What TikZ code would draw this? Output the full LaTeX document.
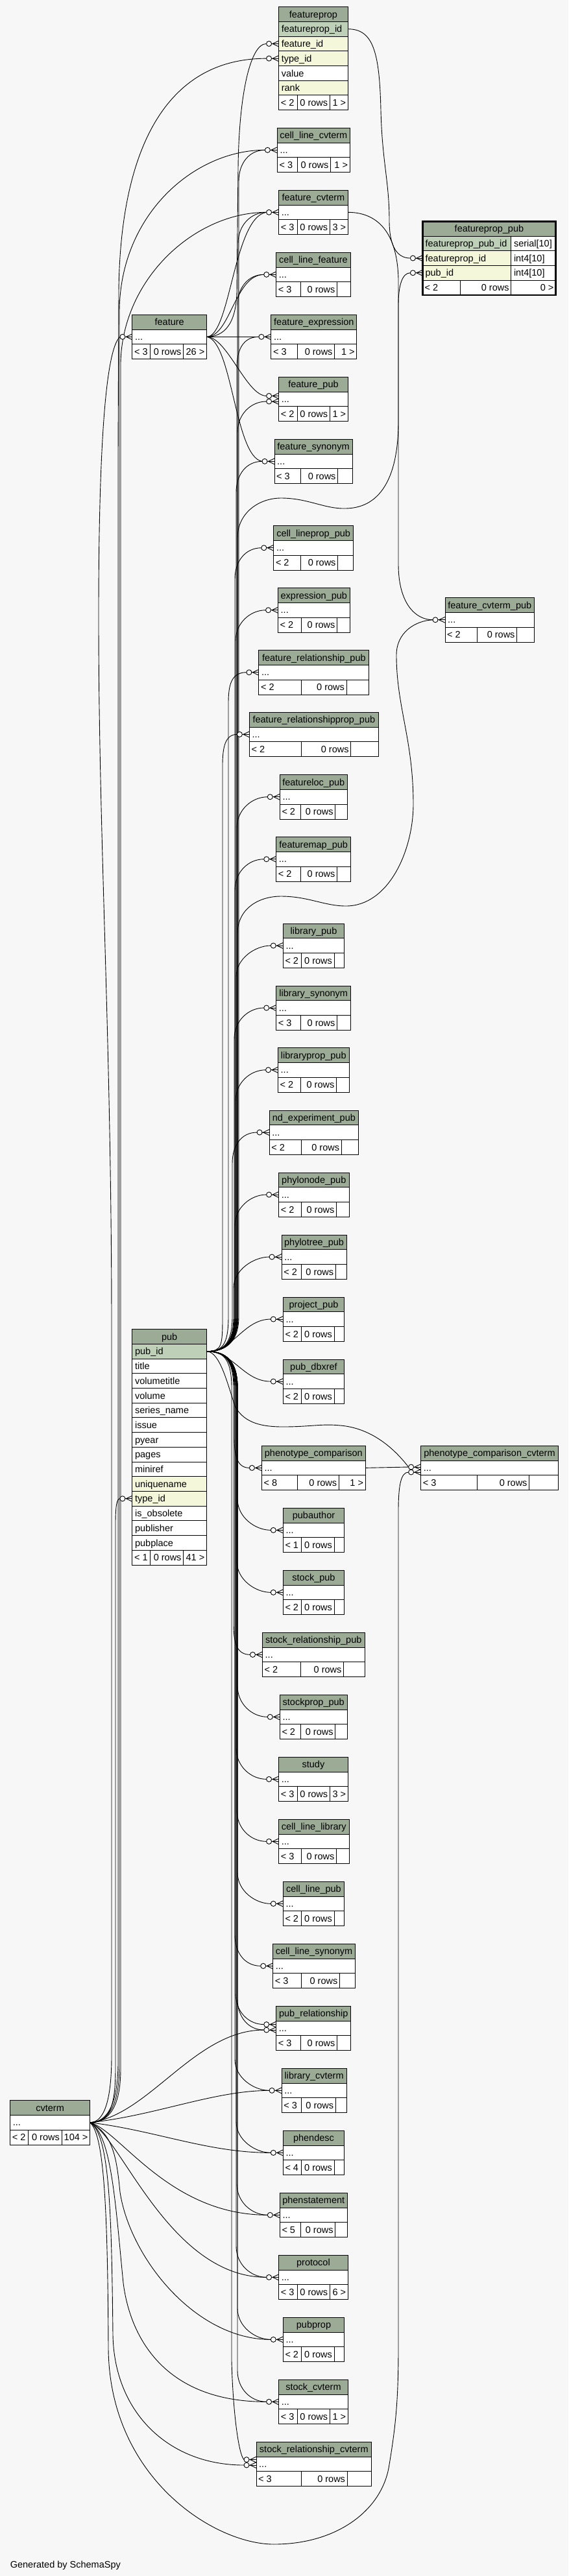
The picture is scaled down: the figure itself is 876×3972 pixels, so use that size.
\documentclass[tikz,border=0pt]{standalone}
\usepackage{fontspec}
\setmainfont{Liberation Sans}
\definecolor{hdrc}{HTML}{9BAB96}
\definecolor{pkc}{HTML}{BED1B8}
\definecolor{idxc}{HTML}{F4F7DA}
\definecolor{bgc}{HTML}{F7F7F7}
\tikzset{
 rel/.style={line width=0.9pt, black},
 tb/.style={line width=1pt, black},
 txt/.style={font=\fontsize{14.5}{17}\selectfont, inner sep=0pt, text=black},
}
\newcommand\stdtable[9]{%
  \pgfmathsetmacro\tya{#4+22.7}%
  \pgfmathsetmacro\tyb{#4+45.4}%
  \pgfmathsetmacro\tyc{#4+68.4}%
  \pgfmathsetmacro\tym{#4+34.05}%
  \pgfmathsetmacro\tyht{#4+16.55}%
  \pgfmathsetmacro\tyrt{#4+39.25}%
  \pgfmathsetmacro\tyft{#4+62.1}%
  \pgfmathsetmacro\txm{(#2+#3)/2}%
  \fill[hdrc] (#2,#4) rectangle (#3,\tya);
  \fill[white] (#2,\tya) rectangle (#3,\tyc);
  \draw[tb] (#2,#4) rectangle (#3,\tyc);
  \draw[tb] (#2,\tya) -- (#3,\tya) (#2,\tyb) -- (#3,\tyb) (#6,\tyb) -- (#6,\tyc) (#7,\tyb) -- (#7,\tyc);
  \node[txt,anchor=base] (#1-title) at (\txm,\tyht) {#5};
  \node[txt,anchor=base west] (#1-row) at (#2+4,\tyrt) {...};
  \node[txt,anchor=base west] (#1-fl) at (#2+3,\tyft) {#8};
  \node[txt,anchor=base east] (#1-fm) at (#7-3,\tyft) {0 rows};
  \node[txt,anchor=base east] (#1-fr) at (#3-3,\tyft) {#9};
  \coordinate (#1-in) at (#2,\tym);
  \coordinate (#1-c) at (#2-19,\tym);
  \coordinate (#1-out) at (#3,\tym);
}
\newcommand\cellrow[6]{%
  \pgfmathsetmacro\cya{#3+22.7}\pgfmathsetmacro\cyt{#3+16.55}%
  \draw[tb,fill=#4] (#1,#3) rectangle (#2,\cya);
  \node[txt,anchor=base west] (#6) at (#1+4,\cyt) {#5};}
\newcommand\hdrrow[5]{%
  \pgfmathsetmacro\cya{#3+22.7}\pgfmathsetmacro\cyt{#3+16.55}\pgfmathsetmacro\cxm{(#1+#2)/2}%
  \draw[tb,fill=hdrc] (#1,#3) rectangle (#2,\cya);
  \node[txt,anchor=base] (#5) at (\cxm,\cyt) {#4};}
\newcommand\footrow[9]{%
  \pgfmathsetmacro\cya{#3+23}\pgfmathsetmacro\cyt{#3+16.7}%
  \draw[tb,fill=white] (#1,#3) rectangle (#2,\cya);
  \draw[tb] (#4,#3) -- (#4,\cya) (#5,#3) -- (#5,\cya);
  \node[txt,anchor=base west] (#9-l) at (#1+3,\cyt) {#6};
  \node[txt,anchor=base east] (#9-m) at (#5-3,\cyt) {#7};
  \node[txt,anchor=base east] (#9-r) at (#2-3,\cyt) {#8};}
\newcommand\crowfoot[1]{%
  \draw[rel] ([xshift=-11pt]#1) -- (#1);
  \draw[rel] ([xshift=-9.5pt]#1) -- ([yshift=4.5pt]#1);
  \draw[rel] ([xshift=-9.5pt]#1) -- ([yshift=-4.5pt]#1);
  \draw[rel,fill=white] ([xshift=-15pt]#1) circle[radius=4pt];}
\newcommand\pubup[4]{%
  \draw[rel] (pub-out) .. controls (342,2083.75) and (#2,2075) .. (#2,2030) -- (#2,#3+48) .. controls (#2,#3+20) and ({max(#4-24,#2+4)},#3) .. (#1);}
\newcommand\pubdown[4]{%
  \draw[rel] (pub-out) .. controls (342,2083.75) and (#2,2092) .. (#2,2140) -- (#2,#3-48) .. controls (#2,#3-20) and ({max(#4-24,#2+4)},#3) .. (#1);}
\begin{document}
\begin{tikzpicture}[x=1pt,y=-1pt]
\useasboundingbox (0,0) rectangle (876,3972);
\fill[bgc] (0,0) rectangle (876,3972);

% featureprop
\hdrrow{429.6}{536.3}{10.7}{featureprop}{fprop-title}
\cellrow{429.6}{536.3}{33.4}{pkc}{featureprop\_id}{fprop-pk}
\cellrow{429.6}{536.3}{56.1}{idxc}{feature\_id}{fprop-fid}
\cellrow{429.6}{536.3}{78.8}{idxc}{type\_id}{fprop-tid}
\cellrow{429.6}{536.3}{101.5}{white}{value}{fprop-val}
\cellrow{429.6}{536.3}{124.2}{idxc}{rank}{fprop-rank}
\footrow{429.6}{536.3}{146.9}{458.1}{508.4}{< 2}{0 rows}{1 >}{fprop-f}
\coordinate (fprop-out) at (536.3,44.75);
\coordinate (fprop-fin) at (429.6,67.45); \coordinate (fprop-fc) at (410.6,67.45);
\coordinate (fprop-tin) at (429.6,90.15); \coordinate (fprop-tc) at (410.6,90.15);

% featureprop_pub
\hdrrow{651.4}{856.5}{341.3}{featureprop\_pub}{fppub-title}
\cellrow{651.4}{787.8}{364}{pkc}{featureprop\_pub\_id}{fppub-pk}
\cellrow{787.8}{856.5}{364}{white}{serial[10]}{fppub-pkt}
\cellrow{651.4}{787.8}{386.7}{idxc}{featureprop\_id}{fppub-fp}
\cellrow{787.8}{856.5}{386.7}{white}{int4[10]}{fppub-fpt}
\cellrow{651.4}{787.8}{409.4}{idxc}{pub\_id}{fppub-p}
\cellrow{787.8}{856.5}{409.4}{white}{int4[10]}{fppub-pt}
\footrow{651.4}{856.5}{432.1}{709.6}{787.8}{< 2}{0 rows}{0 >}{fppub-f}
\draw[line width=2.5pt] (651.4,341.3) rectangle (856.5,455.1);
\coordinate (fppub-fin) at (651.4,398.05); \coordinate (fppub-fc) at (632.4,398.05);
\coordinate (fppub-pin) at (651.4,420.75); \coordinate (fppub-pc) at (632.4,420.75);

% pub
\hdrrow{203.9}{318.5}{2049.7}{pub}{pub-title}
\cellrow{203.9}{318.5}{2072.4}{pkc}{pub\_id}{pub-r0}
\cellrow{203.9}{318.5}{2095.1}{white}{title}{pub-r1}
\cellrow{203.9}{318.5}{2117.8}{white}{volumetitle}{pub-r2}
\cellrow{203.9}{318.5}{2140.5}{white}{volume}{pub-r3}
\cellrow{203.9}{318.5}{2163.2}{white}{series\_name}{pub-r4}
\cellrow{203.9}{318.5}{2185.9}{white}{issue}{pub-r5}
\cellrow{203.9}{318.5}{2208.6}{white}{pyear}{pub-r6}
\cellrow{203.9}{318.5}{2231.3}{white}{pages}{pub-r7}
\cellrow{203.9}{318.5}{2254.0}{white}{miniref}{pub-r8}
\cellrow{203.9}{318.5}{2276.7}{idxc}{uniquename}{pub-r9}
\cellrow{203.9}{318.5}{2299.4}{idxc}{type\_id}{pub-r10}
\cellrow{203.9}{318.5}{2322.1}{white}{is\_obsolete}{pub-r11}
\cellrow{203.9}{318.5}{2344.8}{white}{publisher}{pub-r12}
\cellrow{203.9}{318.5}{2367.5}{white}{pubplace}{pub-r13}
\footrow{203.9}{318.5}{2390.2}{231.9}{282.7}{< 1}{0 rows}{41 >}{pub-f}
\coordinate (pub-out) at (318.5,2083.75);
\coordinate (pub-tin) at (203.9,2310.75); \coordinate (pub-tc) at (184.9,2310.75);

% standard tables
\stdtable{clcv}{427.4}{539.2}{197.3}{cell\_line\_cvterm}{458.1}{509.5}{< 3}{1 >}
\stdtable{fcv}{429.6}{536.3}{293.3}{feature\_cvterm}{458.1}{508.4}{< 3}{3 >}
\stdtable{clf}{425.7}{540.3}{389.3}{cell\_line\_feature}{463.7}{519.6}{< 3}{}
\stdtable{feat}{203.9}{318.5}{485.3}{feature}{231.9}{282.7}{< 3}{26 >}
\stdtable{fexp}{417.9}{549.8}{485.3}{feature\_expression}{458.1}{515.7}{< 3}{1 >}
\stdtable{fpub}{429.6}{536.3}{581.3}{feature\_pub}{458.1}{508.4}{< 2}{1 >}
\stdtable{fsyn}{423}{543}{677.3}{feature\_synonym}{463.7}{520.7}{< 3}{}
\stdtable{clpp}{421.8}{544.7}{810.7}{cell\_lineprop\_pub}{463.7}{520.7}{< 2}{}
\stdtable{exppub}{428.5}{539.2}{906.7}{expression\_pub}{464.8}{519.6}{< 2}{}
\stdtable{fcvp}{686}{823.5}{921.7}{feature\_cvterm\_pub}{735.2}{796.7}{< 2}{}
\stdtable{frp}{398.9}{568.8}{1002.7}{feature\_relationship\_pub}{464.8}{534.1}{< 2}{}
\stdtable{frpp}{384.4}{583.3}{1098.3}{feature\_relationshipprop\_pub}{464.8}{540.8}{< 2}{}
\stdtable{flp}{431.3}{535.2}{1194.7}{featureloc\_pub}{463.7}{516.8}{< 2}{}
\stdtable{fmp}{425.7}{540.8}{1290.7}{featuremap\_pub}{463.7}{519.6}{< 2}{}
\stdtable{libpub}{436.3}{530.7}{1424}{library\_pub}{464.8}{515.1}{< 2}{}
\stdtable{libsyn}{425.7}{540.8}{1520}{library\_synonym}{463.7}{519.6}{< 3}{}
\stdtable{libpp}{428.5}{538}{1615.7}{libraryprop\_pub}{463.7}{518.5}{< 2}{}
\stdtable{ndep}{415.1}{552.6}{1712}{nd\_experiment\_pub}{464.8}{526.3}{< 2}{}
\stdtable{pnp}{429.6}{538}{1808}{phylonode\_pub}{464.8}{518.5}{< 2}{}
\stdtable{ptp}{434.1}{534.1}{1904}{phylotree\_pub}{464.8}{517.4}{< 2}{}
\stdtable{projp}{436.3}{530.7}{2000}{project\_pub}{464.8}{515.1}{< 2}{}
\stdtable{pdbx}{436.3}{530.7}{2096}{pub\_dbxref}{464.8}{515.1}{< 2}{}
\stdtable{pcomp}{403.4}{563.2}{2229.3}{phenotype\_comparison}{458.1}{522.4}{< 8}{1 >}
\stdtable{pccv}{648.6}{860.4}{2229.3}{phenotype\_comparison\_cvterm}{735.2}{815.7}{< 3}{}
\stdtable{pauth}{436.3}{530.7}{2325.3}{pubauthor}{464.8}{515.1}{< 1}{}
\stdtable{stpub}{436.3}{530.7}{2421.3}{stock\_pub}{464.8}{515.1}{< 2}{}
\stdtable{srp}{404.5}{562}{2517.3}{stock\_relationship\_pub}{463.7}{529.6}{< 2}{}
\stdtable{stpp}{431.3}{535.2}{2613.3}{stockprop\_pub}{463.7}{516.8}{< 2}{}
\stdtable{study}{429.6}{536.3}{2709.3}{study}{458.1}{508.4}{< 3}{3 >}
\stdtable{cllib}{429.6}{538}{2805.3}{cell\_line\_library}{464.8}{518.5}{< 3}{}
\stdtable{clpub}{436.3}{530.7}{2901.3}{cell\_line\_pub}{464.8}{515.1}{< 2}{}
\stdtable{clsyn}{420.7}{547.5}{2997.3}{cell\_line\_synonym}{464.8}{523.5}{< 3}{}
\stdtable{prel}{425.7}{540.8}{3093.3}{pub\_relationship}{463.7}{519.6}{< 3}{}
\stdtable{libcv}{434.1}{534.1}{3189.3}{library\_cvterm}{464.8}{517.4}{< 3}{}
\stdtable{cvterm}{15.6}{138.6}{3238.7}{cvterm}{43.6}{95}{< 2}{104 >}
\stdtable{phend}{436.3}{530.7}{3285.3}{phendesc}{464.8}{515.1}{< 4}{}
\stdtable{phens}{431.3}{535.2}{3381.3}{phenstatement}{463.7}{516.8}{< 5}{}
\stdtable{proto}{429.6}{536.3}{3477.3}{protocol}{458.1}{508.4}{< 3}{6 >}
\stdtable{pprop}{436.3}{530.7}{3573.3}{pubprop}{464.8}{515.1}{< 2}{}
\stdtable{stcv}{429.6}{536.3}{3669.3}{stock\_cvterm}{458.1}{508.4}{< 3}{1 >}
\stdtable{srcv}{395}{572.6}{3765.3}{stock\_relationship\_cvterm}{464.8}{535.2}{< 3}{}

\coordinate (fpub-in1) at (429.6,610.5); \coordinate (fpub-c1) at (410.6,610.5);
\coordinate (fpub-in2) at (429.6,619); \coordinate (fpub-c2) at (410.6,619);
\coordinate (pccv-in1) at (648.6,2262); \coordinate (pccv-c1) at (629.6,2262);
\coordinate (pccv-in2) at (648.6,2270); \coordinate (pccv-c2) at (629.6,2270);
\coordinate (prel-in1) at (425.7,3121.5); \coordinate (prel-c1) at (406.7,3121.5);
\coordinate (prel-in2) at (425.7,3130); \coordinate (prel-c2) at (406.7,3130);
\coordinate (srcv-in1) at (395,3792.5); \coordinate (srcv-c1) at (376,3792.5);
\coordinate (srcv-in2) at (395,3801); \coordinate (srcv-c2) at (376,3801);

% featureprop -> featureprop_pub
\draw[rel] (fprop-out) .. controls (575,44.75) and (585,80) .. (587,170) .. controls (589,250) and (600,280) .. (600,340) .. controls (600,380) and (612,398.05) .. (fppub-fc);
% feature_cvterm -> feature_cvterm_pub
\draw[rel] (fcv-out) .. controls (575,327.35) and (612,350) .. (614,430) -- (614,870) .. controls (614,930) and (640,955.75) .. (fcvp-c);

% feature edges
\draw[rel] (feat-out) .. controls (345,519.35) and (364,500) .. (365,450) -- (367,260) .. controls (368,150) and (385,67.45) .. (fprop-fc);
\draw[rel] (feat-out) .. controls (355,519.35) and (360,335) .. (fcv-c);
\draw[rel] (feat-out) .. controls (355,519.35) and (362,423.35) .. (clf-c);
\draw[rel] (feat-out) -- (fexp-c);
\draw[rel] (feat-out) .. controls (350,519.35) and (380,610.5) .. (fpub-c1);
\draw[rel] (feat-out) .. controls (358,525) and (362,705) .. (fsyn-c);

% cvterm upward edges
\draw[rel] (cvterm-out) .. controls (165,3272.75) and (182,3245) .. (182,3180) -- (182,700) -- (183,450) .. controls (185,240) and (250,90.15) .. (fprop-tc);
\draw[rel] (cvterm-out) .. controls (166,3272.75) and (184,3248) .. (184,3185) -- (184,480) .. controls (185,330) and (300,231.35) .. (clcv-c);
\draw[rel] (cvterm-out) .. controls (167,3272.75) and (186,3250) .. (186,3190) -- (186,560) .. controls (188,430) and (300,327.35) .. (fcv-c);
\draw[rel] (cvterm-out) .. controls (160,3272.75) and (172,3240) .. (172,3170) -- (172,2050) .. controls (172,1600) and (152,1300) .. (152,950) .. controls (152,700) and (162,540) .. (feat-c);
\draw[rel] (cvterm-out) .. controls (168,3272.75) and (178,3250) .. (178,3190) -- (178,2350) .. controls (178,2322) and (180,2310.75) .. (pub-tc);

% cvterm downward edges
\draw[rel] (cvterm-out) .. controls (230,3262) and (300,3130) .. (prel-c2);
\draw[rel] (cvterm-out) .. controls (240,3262) and (330,3223.35) .. (libcv-c);
\draw[rel] (cvterm-out) .. controls (240,3285) and (320,3319.35) .. (phend-c);
\draw[rel] (cvterm-out) .. controls (185,3285) and (260,3415.35) .. (phens-c);
\draw[rel] (cvterm-out) .. controls (185,3290) and (260,3511.35) .. (proto-c);
\draw[rel] (cvterm-out) .. controls (175,3290) and (180,3330) .. (185,3380) .. controls (200,3480) and (300,3607.35) .. (pprop-c);
\draw[rel] (cvterm-out) .. controls (172,3290) and (178,3400) .. (190,3520) .. controls (200,3600) and (250,3703.35) .. (stcv-c);
\draw[rel] (cvterm-out) .. controls (168,3290) and (172,3400) .. (174,3600) .. controls (176,3720) and (260,3801) .. (srcv-c2);
\draw[rel] (cvterm-out) .. controls (160,3290) and (166,3400) .. (167,3620) .. controls (168,3820) and (330,3923) .. (422,3923) .. controls (520,3923) and (590,3870) .. (600,3800) .. controls (610,3740) and (614,3700) .. (614,3620) -- (614,2330) .. controls (614,2290) and (618,2270) .. (pccv-c2);

% pub edges
\pubup{clcv-c}{368}{231.35}{408.4}
\pubup{fcv-c}{367}{327.35}{410.6}
\pubup{clf-c}{366}{423.35}{406.7}
\pubup{fexp-c}{365}{519.35}{398.9}
\pubup{fpub-c2}{366}{619}{410.6}
\pubup{fsyn-c}{364}{711.35}{404}
\pubup{clpp-c}{362}{844.75}{402.8}
\pubup{exppub-c}{363}{940.75}{409.5}
\pubup{frp-c}{352}{1036.75}{379.9}
\pubup{frpp-c}{343}{1132.35}{365.4}
\pubup{flp-c}{365}{1228.75}{412.3}
\pubup{fmp-c}{362}{1324.75}{406.7}
\pubup{libpub-c}{364}{1458.05}{417.3}
\pubup{libsyn-c}{361}{1554.05}{406.7}
\pubup{libpp-c}{363}{1649.75}{409.5}
\pubup{ndep-c}{358}{1746.05}{396.1}
\pubup{pnp-c}{362}{1842.05}{410.6}
\pubup{ptp-c}{360}{1938.05}{415.1}
\draw[rel] (pub-out) .. controls (360,2083.75) and (375,2034.05) .. (projp-c);
\draw[rel] (pub-out) .. controls (360,2083.75) and (375,2130.05) .. (pdbx-c);
\draw[rel] (pub-out) .. controls (342,2083.75) and (366,2075) .. (366,2030) -- (366,830) .. controls (366,790) and (400,768) .. (433,768) .. controls (475,768) and (500,785) .. (533,784) .. controls (590,783) and (614,730) .. (614,650) -- (614,470) .. controls (614,440) and (620,420.75) .. (fppub-pc);
\draw[rel] (pub-out) .. controls (342,2083.75) and (366,2075) .. (366,2030) -- (366,1440) .. controls (366,1400) and (400,1382) .. (433,1382) .. controls (475,1382) and (500,1397) .. (533,1397) .. controls (600,1397) and (637,1310) .. (637,1240) .. controls (637,1140) and (611,1090) .. (611,1010) .. controls (611,975) and (640,957) .. (fcvp-c);
\draw[rel] (pub-out) .. controls (340,2083.75) and (352,2140) .. (363,2170) .. controls (378,2195) and (405,2200) .. (436,2200) .. controls (480,2200) and (495,2195) .. (525,2198) .. controls (570,2202) and (605,2230) .. (pccv-c1);
\draw[rel] (pcomp-out) -- (pccv-c1);
\pubdown{pcomp-c}{361}{2263.35}{384.4}
\pubdown{pauth-c}{366}{2359.35}{417.3}
\pubdown{stpub-c}{365}{2455.35}{417.3}
\pubdown{srp-c}{360}{2551.35}{385.5}
\pubdown{stpp-c}{366}{2647.35}{412.3}
\pubdown{study-c}{364}{2743.35}{410.6}
\pubdown{cllib-c}{365}{2839.35}{410.6}
\pubdown{clpub-c}{366}{2935.35}{417.3}
\pubdown{clsyn-c}{362}{3031.35}{401.7}
\pubdown{prel-c1}{363}{3121.5}{406.7}
\pubdown{prel-c2}{366}{3130}{406.7}
\pubdown{libcv-c}{362}{3223.35}{415.1}
\pubdown{phend-c}{364}{3319.35}{417.3}
\pubdown{phens-c}{365}{3415.35}{412.3}
\pubdown{proto-c}{364}{3511.35}{410.6}
\pubdown{pprop-c}{366}{3607.35}{417.3}
\pubdown{stcv-c}{366}{3703.35}{410.6}
\draw[rel] (pub-out) .. controls (342,2083.75) and (357,2092) .. (357,2140) -- (357,3640) .. controls (359,3720) and (368,3785) .. (srcv-c1);

% crow's feet
\foreach \cf in {fprop-fin,fprop-tin,fppub-fin,fppub-pin,clcv-in,fcv-in,clf-in,feat-in,fexp-in,fpub-in1,fpub-in2,fsyn-in,clpp-in,exppub-in,fcvp-in,frp-in,frpp-in,flp-in,fmp-in,libpub-in,libsyn-in,libpp-in,ndep-in,pnp-in,ptp-in,projp-in,pdbx-in,pub-tin,pcomp-in,pccv-in1,pccv-in2,pauth-in,stpub-in,srp-in,stpp-in,study-in,cllib-in,clpub-in,clsyn-in,prel-in1,prel-in2,libcv-in,phend-in,phens-in,proto-in,pprop-in,stcv-in,srcv-in1,srcv-in2}{\crowfoot{\cf}}

\node[txt,anchor=base west] (gen) at (15.6,3959) {Generated by SchemaSpy};
\end{tikzpicture}
\end{document}
